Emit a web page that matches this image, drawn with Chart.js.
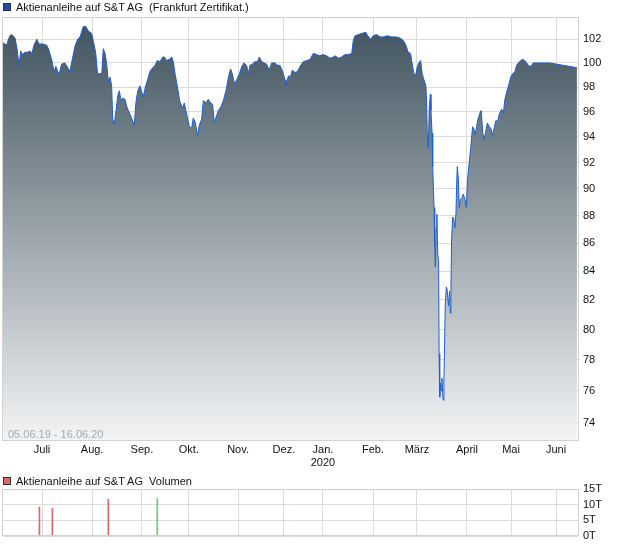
<!DOCTYPE html>
<html>
<head>
<meta charset="utf-8">
<script src="https://cdn.jsdelivr.net/npm/chart.js@4.4.1/dist/chart.umd.min.js"></script>
<style>
  html, body { margin: 0; padding: 0; background: #fff; }
  body { width: 620px; height: 546px; position: relative; overflow: hidden;
         font-family: "Liberation Sans", Arial, sans-serif; }
  canvas { display: block; }
  .legend { position: absolute; left: 3px; font-size: 11px; color: #111; white-space: pre; line-height: 12px; }
  .legend .box { display: inline-block; width: 6px; height: 6px; border: 1px solid #333; margin-right: 5px; vertical-align: 0px; }
  #range { position: absolute; left: 8px; top: 428px; font-size: 11px; color: #a3a9b0; white-space: pre; }
  #mainWrap { position: absolute; left: 0; top: 0; width: 620px; height: 470px; }
  #volWrap { position: absolute; left: 0; top: 470px; width: 620px; height: 76px; }
</style>
</head>
<body>
<div id="mainWrap"><canvas id="main" width="620" height="470"></canvas></div>
<div id="volWrap"><canvas id="vol" width="620" height="76"></canvas></div>
<div class="legend" style="top:1px"><span class="box" style="background:#1f4ea8"></span>Aktienanleihe auf S&amp;T AG  (Frankfurt Zertifikat.)</div>
<div class="legend" style="top:475px"><span class="box" style="background:#e06666"></span>Aktienanleihe auf S&amp;T AG  Volumen</div>
<div id="range">05.06.19 - 16.06.20</div>
<script>
// ---- data (x = trading day since 05.06.19) ----
const priceDay = [
  0,1.6,3.1,4.1,5.5,6.4,7.3,8.1,8.8,10.0,11.2,12.3,13.2,14.1,15.4,16.4,18.2,19.9,20.9,22.3,
  23.2,24.1,25.5,26.7,28.2,29.2,30.5,31.8,32.8,34.0,35.1,36.6,37.7,38.9,40.4,41.1,42.2,43.1,44.2,45.0,
  45.7,46.5,47.2,48.0,48.8,49.5,50.0,50.7,51.5,52.3,53.0,53.8,54.5,55.6,56.4,57.1,58.6,59.8,60.6,61.4,
  62.4,63.2,63.9,65.0,65.9,67.0,68.2,69.3,70.3,71.5,72.8,73.5,74.6,75.8,76.9,77.6,78.4,79.4,80.6,81.9,
  82.6,83.7,84.9,86.0,86.7,87.5,88.7,89.4,90.5,91.3,92.5,93.5,94.6,95.5,96.3,97.0,98.1,99.3,100.4,101.6,
  102.7,103.7,104.5,105.4,106.5,107.7,108.8,109.8,111.0,111.8,112.5,113.6,114.8,115.9,116.8,117.9,119.1,120.1,121.3,122.4,
  123.9,125.2,126.2,127.4,128.5,128.9,130.0,131.1,131.8,133.0,134.3,135.3,136.8,138.4,139.9,141.4,142.9,144.4,145.9,147.5,
  149.0,150.5,151.3,152.8,154.3,155.8,157.3,158.9,159.6,160.4,161.9,163.4,165.3,166.2,167.5,168.7,170.3,171.8,173.3,175.1,
  177.1,179.4,180.9,182.4,183.6,184.6,185.7,186.4,187.2,188.0,188.8,189.5,190.3,191.0,191.8,192.7,193.0,193.3,193.8,194.2,
  194.7,195.0,195.5,195.8,196.4,196.7,197.0,197.3,197.7,198.1,198.5,198.7,199.0,199.4,199.7,200.0,200.3,200.6,200.9,201.2,
  201.5,202.0,202.4,203.0,203.5,203.8,204.1,204.4,204.9,205.3,205.9,206.4,206.7,207.0,207.5,207.9,208.4,209.1,209.7,210.5,
  211.1,211.7,212.3,213.1,213.7,214.0,214.6,215.2,215.8,216.4,217.3,217.9,218.6,219.2,219.8,220.7,221.6,222.5,223.1,223.8,
  224.6,225.4,226.1,227.2,228.0,228.7,229.5,230.2,231.3,232.2,233.3,234.0,234.8,235.9,236.8,237.8,238.6,239.8,240.9,241.6,
  243.2,244.7,246.9,249.2,252.3,255.3,258.4,261.5
];
const priceValue = [
  101.7,101.5,102.3,102.4,102.1,101.2,99.8,101.0,100.7,100.9,100.9,101.0,100.8,101.5,102.0,101.6,101.6,101.5,101.1,100.2,
  99.3,99.7,99.0,99.9,100.0,99.7,99.3,100.5,101.4,102.0,102.2,103.1,103.1,102.7,102.5,101.9,100.9,99.1,99.1,99.1,
  101.2,100.8,100.0,98.5,98.8,98.1,95.4,95.0,96.1,97.3,97.7,96.9,97.1,97.0,96.4,96.1,95.5,94.9,96.8,97.7,
  98.1,97.6,97.2,98.1,98.6,99.3,99.6,99.8,100.2,100.1,100.5,100.5,100.2,100.3,100.5,100.1,99.1,98.1,96.8,96.3,
  96.7,95.8,94.8,94.7,95.5,95.2,94.1,94.9,95.4,96.9,96.7,97.0,96.7,96.6,95.1,95.5,96.1,96.4,96.9,97.7,
  98.8,99.5,99.1,98.3,98.6,99.1,99.7,100.0,99.8,99.1,99.8,99.9,100.1,100.1,100.5,100.1,100.0,99.9,99.4,100.0,
  100.0,99.8,99.8,99.3,98.6,98.1,98.9,98.9,99.4,99.2,99.3,99.7,100.1,100.2,100.3,100.8,100.7,100.6,100.7,100.6,
  100.4,100.5,100.6,100.4,100.5,100.7,100.7,100.8,101.9,102.3,102.4,102.5,102.6,102.3,102.0,102.3,102.4,102.2,102.2,102.3,
  102.2,102.2,102.1,101.9,101.5,100.9,100.8,100.0,99.1,99.0,99.7,100.0,100.2,99.1,98.6,98.1,96.8,94.3,93.1,96.2,
  97.4,96.1,94.3,91.7,88.6,85.8,84.3,87.1,88.1,85.2,84.7,78.4,75.6,76.5,76.0,76.8,75.9,75.4,76.7,79.0,
  81.6,82.9,82.7,81.6,82.6,81.1,82.7,86.3,87.9,87.8,87.1,88.2,90.3,91.7,90.7,88.6,89.2,89.3,89.6,89.2,
  88.6,90.7,91.8,93.1,94.3,94.8,94.6,94.2,94.8,95.4,95.9,96.1,94.3,93.8,94.3,95.1,94.8,94.6,94.1,94.7,
  95.3,95.2,95.8,96.2,95.9,97.0,97.6,98.0,98.8,99.1,99.3,99.8,100.0,100.2,100.3,100.2,100.0,99.7,99.8,100.0,
  100.0,100.0,100.0,100.0,99.9,99.8,99.7,99.6
];
const monthTickDay = [17.8, 40.6, 63.3, 84.7, 107.1, 128.0, 145.8, 168.6, 188.6, 211.4, 231.5, 252.0];
const monthLabels = ["Juli", "Aug.", "Sep.", "Okt.", "Nov.", "Dez.", ["Jan.", "2020"], "Feb.", "März", "April", "Mai", "Juni"];
const priceTicks = [74, 76, 78, 80, 82, 84, 86, 88, 90, 92, 94, 96, 98, 100, 102];
const volumeDay = [16.6, 22.5, 48.0, 70.3];
const volumeValue = [9.2, 8.8, 11.7, 12.0];     // in thousands (T)
const volumeUp = [false, false, false, true];
const volumeTicks = [0, 5, 10, 15];

// ---- styling ----
const FONT = { family: '"Liberation Sans", Arial, sans-serif', size: 11 };
const GRID = '#dcdcdc';
const X_MIN = 0, X_MAX = 262;

const framePlugin = {
  id: 'frame',
  afterDraw(chart) {
    const a = chart.chartArea, c = chart.ctx;
    c.save();
    c.strokeStyle = '#d2d2d2';
    c.lineWidth = 1;
    c.strokeRect(Math.round(a.left) - 0.5, Math.round(a.top) + 0.5,
                 Math.round(a.right - a.left) + 1, Math.round(a.bottom - a.top) - 1);
    c.restore();
  }
};

function xScale(showLabels, h) {
  return {
    type: 'linear', min: X_MIN, max: X_MAX, offset: false,
    afterBuildTicks: s => { s.ticks = monthTickDay.map(v => ({ value: v })); },
    afterFit: s => { s.height = h; },
    grid: { color: GRID, drawTicks: false, offset: false },
    border: { display: false },
    ticks: {
      display: showLabels, autoSkip: false, maxRotation: 0, padding: 2,
      color: '#111', font: FONT,
      callback: (v, i) => monthLabels[i]
    }
  };
}

function yFit(s) { s.width = 42; s.paddingTop = 0; s.paddingBottom = 0; }

const mainData = priceDay.map((d, i) => ({ x: d, y: priceValue[i] }));

new Chart(document.getElementById('main'), {
  type: 'line',
  data: {
    datasets: [{
      data: mainData,
      borderColor: '#1f5fd0',
      borderWidth: 1,
      pointRadius: 0,
      tension: 0,
      fill: 'start',
      backgroundColor: (ctx) => {
        const a = ctx.chart.chartArea;
        if (!a) return 'rgba(0,0,0,0)';
        const g = ctx.chart.ctx.createLinearGradient(0, a.top, 0, a.bottom);
        g.addColorStop(0, '#3e515d');
        g.addColorStop(1, '#f3f4f5');
        return g;
      }
    }]
  },
  options: {
    responsive: false, animation: false,
    layout: { padding: { left: 3, top: 17, right: 0, bottom: 0 } },
    plugins: { legend: { display: false }, tooltip: { enabled: false } },
    scales: {
      x: xScale(true, 29),
      y: {
        type: 'logarithmic', position: 'right', min: 72.87, max: 103.92,
        afterBuildTicks: s => { s.ticks = priceTicks.map(v => ({ value: v })); },
        afterFit: yFit,
        grid: { color: GRID, drawTicks: false },
        border: { display: false },
        ticks: { autoSkip: false, padding: 5, color: '#111', font: FONT, callback: v => String(v) }
      }
    }
  },
  plugins: [framePlugin]
});

new Chart(document.getElementById('vol'), {
  type: 'bar',
  data: {
    datasets: [{
      data: volumeDay.map((d, i) => ({ x: d, y: volumeValue[i] })),
      backgroundColor: volumeUp.map(u => u ? '#6ccf6c' : '#e06666'),
      barThickness: 1,
      borderWidth: 0
    }]
  },
  options: {
    responsive: false, animation: false,
    layout: { padding: { left: 3, top: 19, right: 0, bottom: 0 } },
    plugins: { legend: { display: false }, tooltip: { enabled: false } },
    scales: {
      x: xScale(false, 10),
      y: {
        position: 'right', min: 0, max: 15,
        afterBuildTicks: s => { s.ticks = volumeTicks.map(v => ({ value: v })); },
        afterFit: yFit,
        grid: { color: GRID, drawTicks: false },
        border: { display: false },
        ticks: { autoSkip: false, padding: 5, color: '#111', font: FONT, callback: v => v + 'T' }
      }
    }
  },
  plugins: [framePlugin]
});
</script>
</body>
</html>
